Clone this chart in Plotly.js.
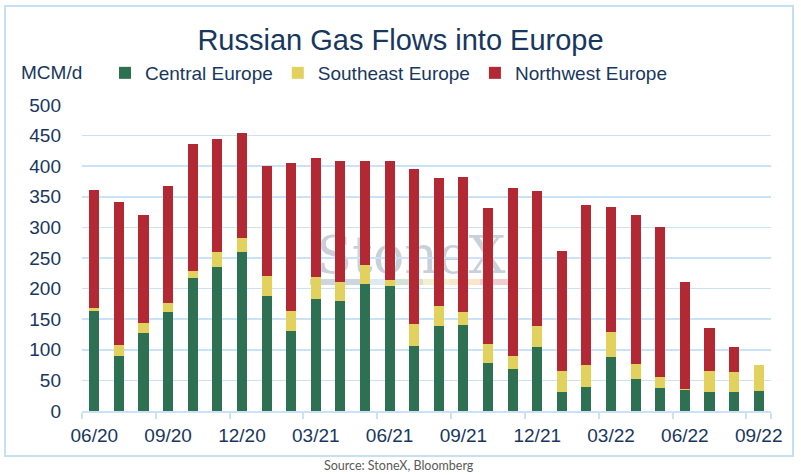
<!DOCTYPE html>
<html>
<head>
<meta charset="utf-8">
<script src="https://cdn.plot.ly/plotly-3.0.1.min.js"></script>
<style>
html,body{margin:0;padding:0;background:#fff;}
#chart{width:801px;height:475px;}
</style>
</head>
<body>
<div id="chart"></div>
<script>
const months = ['06/20','07/20','08/20','09/20','10/20','11/20','12/20','01/21','02/21','03/21','04/21','05/21','06/21','07/21','08/21','09/21','10/21','11/21','12/21','01/22','02/22','03/22','04/22','05/22','06/22','07/22','08/22','09/22'];
const centralEurope   = [163,90,128,161,218,236,259,188,131,183,180,208,204,107,139,141,79,69,105,31,39,88,52,38,34,31,31,33];
const southeastEurope = [5,18,16,16,10,23,24,33,33,36,31,31,10,35,33,21,31,21,34,35,36,41,25,18,2,35,33,42];
const northwestEurope = [193,233,177,190,208,185,171,179,242,195,197,169,194,254,208,221,222,275,221,196,261,205,244,244,174,70,41,0];
const tickEvery = 3;

const idx = months.map((m,i)=>i);
const tickIdx = idx.filter(i => i % tickEvery === 0);
const tickLabels = tickIdx.map(i => months[i]);
const boundaryIdx = tickIdx.map(i => i - 0.5).concat([months.length - 0.5]);

// plot area geometry (px)
const L = 82, R = 771, T = 105, B = 411;
const px = v => (v - L) / (R - L);
const py = v => (B - v) / (B - T);

const navy = '#17375E';
const grid = '#C9E2F5';
const sans = 'Liberation Sans, Arial, sans-serif';

const common = {type:'bar', x: idx, width: 0.41, hovertemplate:'%{y}<extra>%{fullData.name}</extra>'};
const traces = [
  Object.assign({}, common, {name:'Central Europe', y: centralEurope, marker:{color:'#2E7152'}}),
  Object.assign({}, common, {name:'Southeast Europe', y: southeastEurope, marker:{color:'#E2D15C'}}),
  Object.assign({}, common, {name:'Northwest Europe', y: northwestEurope, marker:{color:'#B22833'}})
];

const stripColors = ['#CDD5DE','#DEEAF5','#D2E3D6','#F5F0D2','#FBE6CC','#F0CDD0'];
const stripEdges = [310,360,395,423,450,480,508];
const shapes = [];
// frame
shapes.push({type:'rect', xref:'paper', yref:'paper', x0:px(5), x1:px(793), y0:py(456), y1:py(6),
  line:{color:'#C5DFF3', width:2}, fillcolor:'rgba(0,0,0,0)', layer:'below'});
// watermark
shapes.push({type:'rect', xref:'paper', yref:'paper', x0:px(310), x1:px(512), y0:py(276), y1:py(226),
  line:{width:0}, fillcolor:'rgba(0,0,0,0)', layer:'below',
  label:{text:'StoneX', textposition:'middle center',
    font:{family:'DejaVu Serif, Liberation Serif, serif', size:52, color:'#C8D1DA'}}});
for (let i=0;i<stripColors.length;i++){
  shapes.push({type:'rect', xref:'paper', yref:'paper', x0:px(stripEdges[i]), x1:px(stripEdges[i+1]),
    y0:py(285), y1:py(279), line:{width:0}, fillcolor:stripColors[i], layer:'below'});
}

const layout = {
  width:801, height:475,
  margin:{l:L, r:801-R, t:T, b:475-B, pad:0},
  paper_bgcolor:'#fff', plot_bgcolor:'#fff',
  barmode:'stack',
  font:{family:sans, size:19, color:navy},
  title:{text:'Russian Gas Flows into Europe', x:0.5, xanchor:'center', xref:'container',
    y:1-40/475, yanchor:'middle', yref:'container',
    font:{family:sans, size:29, color:navy}},
  showlegend:true,
  legend:{orientation:'h', x:px(105), xanchor:'left', y:py(73), yanchor:'middle',
    font:{family:sans, size:19, color:navy}, traceorder:'normal', bgcolor:'rgba(0,0,0,0)'},
  xaxis:{range:[-0.5, months.length-0.5], tickmode:'array', tickvals:tickIdx, ticktext:tickLabels,
    ticks:'', showgrid:false, zeroline:false, showline:true, linecolor:grid, linewidth:2,
    ticklabelstandoff:6,
    tickfont:{family:sans, size:19, color:navy}, fixedrange:true,
    minor:{tickmode:'array', tickvals:boundaryIdx, ticks:'outside', ticklen:6, tickcolor:grid, tickwidth:2, showgrid:false}},
  yaxis:{range:[0,500], dtick:50, tick0:0, showgrid:true, gridcolor:grid, gridwidth:1.5,
    zeroline:false, showline:false, ticks:'', ticklabelstandoff:20,
    tickfont:{family:sans, size:19, color:navy}, fixedrange:true},
  annotations:[
    {text:'MCM/d', xref:'paper', yref:'paper', x:px(19), y:py(73), xanchor:'left', yanchor:'middle',
      showarrow:false, font:{family:sans, size:19, color:navy}},
    {text:'Source: StoneX, Bloomberg', xref:'paper', yref:'paper', x:px(399), y:py(465), xanchor:'center', yanchor:'middle',
      showarrow:false, font:{family:'Lato, Open Sans, sans-serif', size:12.5, color:'#595959'}}
  ],
  shapes:shapes
};

Plotly.newPlot('chart', traces, layout, {displayModeBar:false, staticPlot:true});
</script>
</body>
</html>
